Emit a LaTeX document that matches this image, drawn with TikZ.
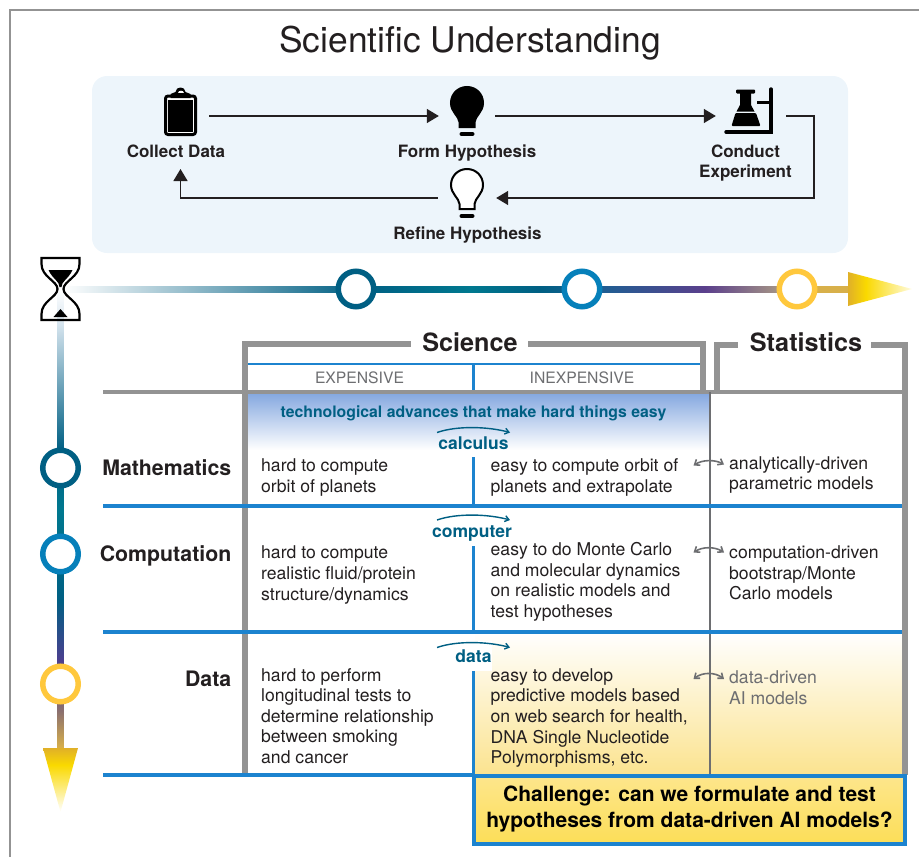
\documentclass[tikz,border=0pt]{standalone}
\usepackage{xcolor}
\usepackage{fontspec}
\setmainfont{TeX Gyre Heros}
\usetikzlibrary{arrows.meta}

\definecolor{inktext}{HTML}{231F20}
\definecolor{panelblue}{HTML}{EDF5FB}
\definecolor{rulegray}{HTML}{939393}
\definecolor{rulethin}{HTML}{6D6E71}
\definecolor{ruleblue}{HTML}{1C83CF}
\definecolor{tealdark}{HTML}{005F83}
\definecolor{tealmid}{HTML}{00788F}
\definecolor{bluemid}{HTML}{0680BA}
\definecolor{bluedeep}{HTML}{1D5F93}
\definecolor{purpledeep}{HTML}{5B3F8C}
\definecolor{purplemid}{HTML}{4B3F8F}
\definecolor{greybrown}{HTML}{A59585}
\definecolor{mauve}{HTML}{8A6F70}
\definecolor{tan}{HTML}{D8B04A}
\definecolor{paleblue}{HTML}{DCE8F1}
\definecolor{sunyellow}{HTML}{FFC83D}
\definecolor{golddark}{HTML}{E0B028}
\definecolor{goldbright}{HTML}{FAD900}
\definecolor{goldpale}{HTML}{FFFBE0}
\definecolor{cellblue}{HTML}{82A6DF}
\definecolor{cellyellow}{HTML}{FBE38F}
\definecolor{boxtop}{HTML}{FDE68C}
\definecolor{boxbottom}{HTML}{FCDE58}

% stops run 25bp to 75bp over the shaded path
\pgfdeclarehorizontalshading{timeacross}{100bp}{color(0bp)=(white); color(25bp)=(white); color(43.9bp)=(tealdark);
  color(50.9bp)=(tealmid); color(55.3bp)=(tealdark); color(59.1bp)=(bluedeep); color(65.8bp)=(purpledeep);
  color(70.5bp)=(greybrown); color(72bp)=(tan); color(75bp)=(tan); color(100bp)=(tan)}
\pgfdeclareverticalshading{timedown}{100bp}{color(0bp)=(tan); color(25bp)=(tan); color(29.1bp)=(mauve);
  color(34.6bp)=(purplemid); color(41.1bp)=(tealdark); color(50.9bp)=(tealmid); color(57.5bp)=(tealdark);
  color(71.6bp)=(paleblue); color(75bp)=(white); color(100bp)=(white)}
\pgfdeclarehorizontalshading{headacross}{100bp}{color(0bp)=(golddark); color(25bp)=(golddark); color(39bp)=(goldbright);
  color(75bp)=(goldpale); color(100bp)=(goldpale)}
\pgfdeclareverticalshading{headdown}{100bp}{color(0bp)=(white); color(25bp)=(white); color(61.7bp)=(goldbright);
  color(75bp)=(golddark); color(100bp)=(golddark)}

\begin{document}
\begin{tikzpicture}[x=1pt, y=-1pt,
    every node/.style={inner sep=0pt, text=inktext},
    iconbox/.style={minimum height=40pt},
    steplabel/.style={font=\fontsize{17}{20}\selectfont\bfseries, align=center},
    flow/.style={draw=inktext, line width=1.5pt, -{Triangle[length=12pt,width=14pt]}},
    ruleg/.style={draw=rulegray, line width=5.5pt},
    ruleb/.style={draw=ruleblue, line width=4pt},
    ring/.style={circle, minimum size=35.5pt, line width=5.5pt, fill=white},
    rowlabel/.style={anchor=east, font=\fontsize{21.3}{25}\selectfont\bfseries},
    head/.style={font=\fontsize{25.2}{30}\selectfont\bfseries},
    costlabel/.style={font=\fontsize{15.7}{19}\selectfont, text=rulethin},
    body/.style={anchor=west, align=left, font=\fontsize{17.6}{20.6}\selectfont},
    advance/.style={font=\fontsize{17.5}{20}\selectfont\bfseries, text=tealdark},
    arcup/.style={draw=tealdark, line width=1.4pt, -{Straight Barb[length=4pt,width=6pt]}},
    linkboth/.style={draw=rulethin, line width=1.6pt, {Straight Barb[length=4.5pt,width=7pt]}-{Straight Barb[length=4.5pt,width=7pt]}},
    bulb/.pic={
      \draw[pic actions, line width=2pt] (-7.5,11) -- (-7.5,6) .. controls (-8,0) and (-16,-4) .. (-16,-13)
        .. controls (-16,-22) and (-9,-29) .. (0,-29) .. controls (9,-29) and (16,-22) .. (16,-13)
        .. controls (16,-4) and (8,0) .. (7.5,6) -- (7.5,11) -- cycle;
      \draw[black, line width=4pt, line cap=round] (-5.5,18) -- (5.5,18);
    },
    clipboardicon/.pic={
      \draw[black, fill=white, line width=3pt, rounded corners=2.5pt] (-15,-20) rectangle (15,18.5);
      \fill[black] (-12.5,-16) rectangle (12.5,16);
      \fill[black] (-10,-18) -- (-10,-22) -- (-5,-24) .. controls (-5,-30) and (5,-30) .. (5,-24) -- (10,-22) -- (10,-18) -- cycle;
      \fill[white] (-3,-23) .. controls (-3,-26.5) and (3,-26.5) .. (3,-23) -- cycle;
    },
    flaskicon/.pic={
      \draw[black, line width=3.4pt, line cap=round] (-25,16) -- (20,16) -- (20,-27);
      \draw[black, line width=3pt] (6,-13.5) -- (20,-13.5);
      \fill[black, rounded corners=1pt] (-15,-26.5) rectangle (4,-22.5);
      \fill[black] (-11,-23) -- (0,-23) -- (0,-11) -- (3.5,-4.5) -- (-14.5,-4.5) -- (-11,-11) -- cycle;
      \fill[black, rounded corners=1pt] (-15.5,-3) -- (5,-3) -- (9.5,10) -- (-19.5,10) -- cycle;
    },
    hourglassicon/.pic={
      \draw[black, line width=2.2pt] (-19,-31) -- (19,-31) -- (19,-25) .. controls (19,-12) and (3,-8) .. (3,0)
        .. controls (3,8) and (19,12) .. (19,25) -- (19,31) -- (-19,31) -- (-19,25)
        .. controls (-19,12) and (-3,8) .. (-3,0) .. controls (-3,-8) and (-19,-12) .. (-19,-25) -- cycle;
      \fill[black] (-12,-19) -- (12,-19) .. controls (8,-10) and (1,-8) .. (1,-2) -- (-1,-2) .. controls (-1,-8) and (-8,-10) .. (-12,-19) -- cycle;
      \fill[black] (-7,28) -- (0,20) -- (7,28) -- cycle;
    }]
    \useasboundingbox (0,0) rectangle (919,857);

    % frame
    \draw[rulegray, line width=1.5pt] (10,857) -- (10,10) -- (919,10);

    \node (title) at (470,43) [font=\fontsize{35.4}{40}\selectfont] {Scientific Understanding};

    % the cycle
    \fill[panelblue, rounded corners=15pt] (92,76) rectangle (848,253);
    \node (clipboard) at (180.5,116) [iconbox, minimum width=57pt] {};
    \node (formbulb) at (467,116) [iconbox, minimum width=56pt] {};
    \node (flask) at (751,116) [iconbox, minimum width=70pt] {};
    \node (refinebulb) at (467,198) [iconbox, minimum width=58pt] {};
    \pic at (clipboard) {clipboardicon};
    \pic [fill=black, draw=black] at (formbulb) {bulb};
    \pic at (flask) {flaskicon};
    \pic [fill=white, draw=black] at (refinebulb) {bulb};

    \node (collect) at (176,151) [steplabel] {Collect Data};
    \node (form) at (467,153.5) [steplabel] {Form Hypothesis};
    \node (conduct) at (745.5,163.5) [steplabel] {Conduct\\Experiment};
    \node (refine) at (467.5,235.5) [steplabel] {Refine Hypothesis};

    \coordinate (loopcorner) at (814,198);
    \coordinate (collectin) at (180.5,169);
    \draw[flow] (clipboard.east) -- (formbulb.west);
    \draw[flow] (formbulb.east) -- (flask.west);
    \draw[flow] (flask.east) -| (loopcorner) -- (refinebulb.east);
    \draw[flow] (refinebulb.west) -| (collectin);

    % time axes
    \shade[shading=timeacross] (63,286) rectangle (850,292);
    \shade[shading=headacross] (848,272) -- (912,289) -- (848,306) -- cycle;
    \shade[shading=timedown] (57.5,289) rectangle (63.5,748);
    \shade[shading=headdown] (43,748) -- (78,748) -- (60.5,812) -- cycle;
    \node (hourglass) at (60.5,289) [minimum size=40pt] {};
    \pic at (hourglass) {hourglassicon};

    \node (ringone) at (356,289) [ring, draw=tealdark] {};
    \node (ringtwo) at (582,289) [ring, draw=bluemid] {};
    \node (ringthree) at (797,289) [ring, draw=sunyellow] {};
    \node (ringmath) at (60.5,468) [ring, draw=tealdark] {};
    \node (ringcomp) at (60.5,554) [ring, draw=bluemid] {};
    \node (ringdata) at (60.5,684) [ring, draw=sunyellow] {};

    % tinted cells
    \shade[top color=white, bottom color=cellyellow] (475,632) rectangle (902,775);
    \shade[top color=cellblue, middle color=cellblue!30!white, bottom color=white] (248,392) rectangle (709,450);

    % table rules
    \draw[ruleg, line width=4pt] (103,392) -- (908,392);
    \draw[ruleg] (245,773) -- (245,344) -- (411,344);
    \draw[ruleg] (528,344) -- (703,344) -- (703,392);
    \draw[ruleg] (717,392) -- (717,345) -- (738,345);
    \draw[ruleg] (871,345) -- (905,345) -- (905,775);
    \draw[rulethin, line width=2pt] (709.5,392) -- (709.5,775);
    \draw[ruleblue, line width=1.5pt] (248,364) -- (700,364);
    \draw[ruleblue, line width=3.6pt] (473.5,364) -- (473.5,390);
    \draw[ruleblue, line width=3.6pt] (473.5,457) -- (473.5,505);
    \draw[ruleblue, line width=3.6pt] (473.5,546) -- (473.5,632);
    \draw[ruleblue, line width=3.6pt] (473.5,671) -- (473.5,775);
    \draw[ruleb] (103,505.5) -- (902,505.5);
    \draw[ruleb] (103,632) -- (902,632);
    \draw[ruleb] (103,775) -- (474,775);

    \node (science) at (470,342) [head] {Science};
    \node (statistics) at (806,342) [head] {Statistics};
    \node (expensive) at (359.5,378) [costlabel] {EXPENSIVE};
    \node (inexpensive) at (582,378) [costlabel] {INEXPENSIVE};
    \node (advances) at (473.5,413) [font=\fontsize{15.8}{19}\selectfont\bfseries, text=tealdark] {technological advances that make hard things easy};

    \node (mathematics) at (231.5,468) [rowlabel] {Mathematics};
    \node (computation) at (231.5,556) [rowlabel] {Computation};
    \node (datarow) at (231.5,679) [rowlabel] {Data};

    % advances and their arcs
    \node (calculus) at (473.5,443) [advance] {calculus};
    \node (computer) at (472,534) [advance] {computer};
    \node (dataword) at (473.5,656) [advance, fill=white, minimum width=37pt, minimum height=30pt] {data};
    \coordinate (calcfrom) at (437,432.5);
    \coordinate (calcto) at (510,432.5);
    \coordinate (compfrom) at (437,520);
    \coordinate (compto) at (510,520);
    \coordinate (datafrom) at (437,647.5);
    \coordinate (datato) at (510,647.5);
    \draw[arcup] (calcfrom) .. controls +(20,-7) and +(-22,-6) .. (calcto);
    \draw[arcup] (compfrom) .. controls +(20,-7) and +(-22,-6) .. (compto);
    \draw[arcup] (datafrom) .. controls +(20,-7) and +(-22,-6) .. (datato);

    % cells
    \node (hardmath) at (261,477.5) [body] {hard to compute\\orbit of planets};
    \node (hardcomp) at (261,575) [body] {hard to compute\\realistic fluid/protein\\structure/dynamics};
    \node (harddata) at (261,716) [body] {hard to perform\\longitudinal tests to\\determine relationship\\between smoking\\and cancer};
    \node (easymath) at (490.5,477.5) [body] {easy to compute orbit of\\planets and extrapolate};
    \node (easycomp) at (490.5,582) [body] {easy to do Monte Carlo\\and molecular dynamics\\on realistic models and\\test hypotheses};
    \node (easydata) at (490.5,718) [body] {easy to develop\\predictive models based\\on web search for health,\\DNA Single Nucleotide\\Polymorphisms, etc.};
    \node (statmath) at (729,475) [body] {analytically-driven\\parametric models};
    \node (statcomp) at (729,573) [body] {computation-driven\\bootstrap/Monte\\Carlo models};
    \node (statdata) at (729,687.5) [body, text=rulethin] {data-driven\\AI models};

    \coordinate (mathlinka) at (693.5,465.5);
    \coordinate (mathlinkb) at (724,464.5);
    \coordinate (complinka) at (693.5,552.5);
    \coordinate (complinkb) at (724,552.5);
    \coordinate (datalinka) at (693.5,679);
    \coordinate (datalinkb) at (724,679);
    \draw[linkboth] (mathlinka) .. controls +(9,-6) and +(-9,-5) .. (mathlinkb);
    \draw[linkboth] (complinka) .. controls +(9,-6) and +(-9,-6) .. (complinkb);
    \draw[linkboth] (datalinka) .. controls +(9,-7) and +(-9,-7) .. (datalinkb);

    \node (challenge) at (689.5,809.5) [draw=ruleblue, line width=4pt, minimum width=431pt, minimum height=68pt, top color=boxtop, bottom color=boxbottom, align=center, text=black, font=\fontsize{21}{26}\selectfont\bfseries] {Challenge: can we formulate and test\\hypotheses from data-driven AI models?};
\end{tikzpicture}
\end{document}
